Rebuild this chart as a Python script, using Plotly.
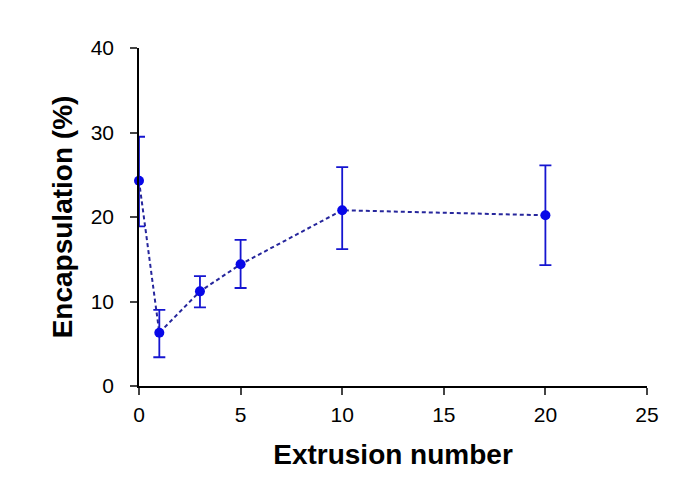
import plotly.graph_objects as go

extrusion = [0, 1, 3, 5, 10, 20]
encapsulation = [24.3, 6.3, 11.2, 14.4, 20.8, 20.2]
err_plus = [5.2, 2.7, 1.8, 2.9, 5.1, 5.9]
err_minus = [5.4, 2.9, 1.9, 2.8, 4.6, 5.9]

x_ticks = [0, 5, 10, 15, 20, 25]
y_ticks = [0, 10, 20, 30, 40]

fig = go.Figure()
fig.add_trace(go.Scatter(
    x=extrusion, y=encapsulation,
    mode="lines+markers",
    line=dict(color="#26269c", width=2, dash="4px,3px"),
    marker=dict(color="#0808e8", size=10),
    error_y=dict(type="data", symmetric=False, array=err_plus, arrayminus=err_minus,
                 color="#1515d0", thickness=1.8, width=6),
    cliponaxis=False,
    showlegend=False,
))

fig.update_layout(
    width=685, height=494,
    margin=dict(l=131, r=46, t=40, b=116),
    paper_bgcolor="white", plot_bgcolor="white",
    font=dict(family="Liberation Sans, Arial, sans-serif", color="black", size=21),
    xaxis=dict(
        range=[0, 25], tickvals=x_ticks, ticks="outside", ticklen=7, tickwidth=1.5,
        showline=True, linecolor="black", linewidth=1.5, showgrid=False, zeroline=False,
        tickfont=dict(size=21), ticklabelstandoff=2,
        title=dict(text="<b>Extrusion number</b>", font=dict(size=28), standoff=19),
    ),
    yaxis=dict(
        range=[0, 40], tickvals=y_ticks, ticks="outside", ticklen=7, tickwidth=1.5,
        showline=True, linecolor="black", linewidth=1.5, showgrid=False, zeroline=False,
        tickfont=dict(size=21), ticklabelstandoff=12,
        title=dict(text="<b>Encapsulation (%)</b>", font=dict(size=28), standoff=10),
    ),
)

fig.write_html("out.html")
